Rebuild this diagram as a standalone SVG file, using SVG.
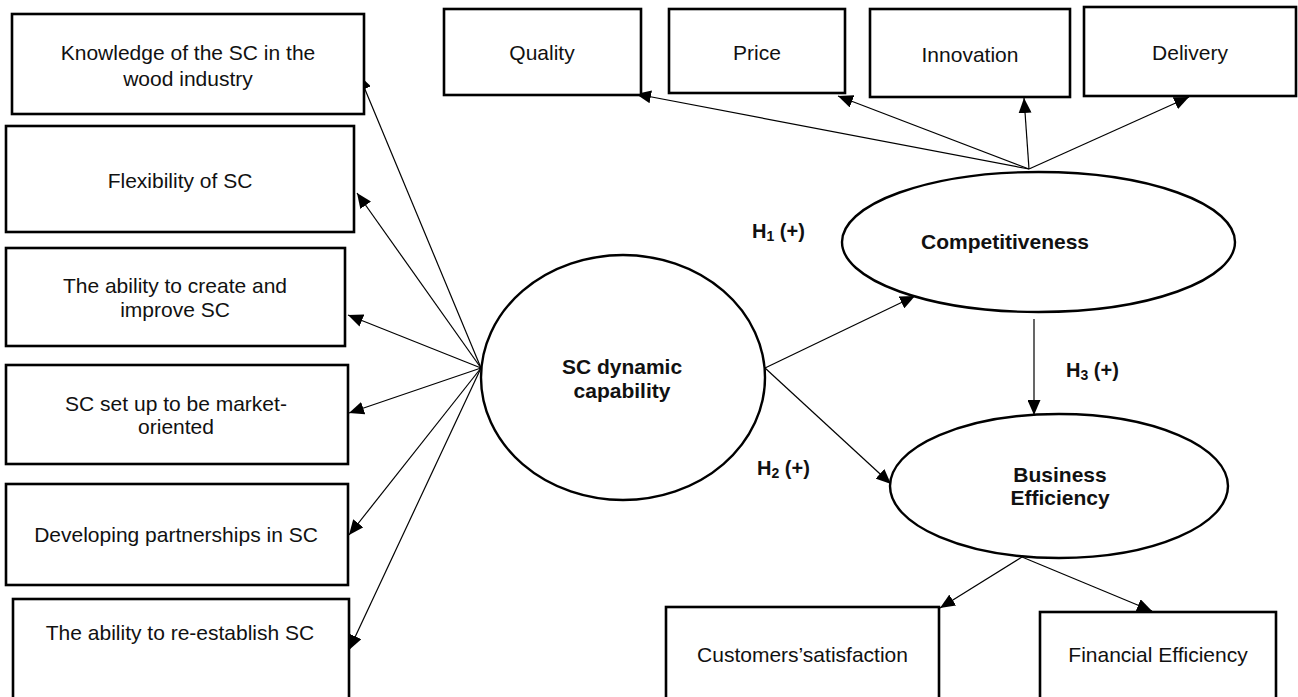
<svg xmlns="http://www.w3.org/2000/svg" width="1298" height="697" viewBox="0 0 1298 697">
<defs>
<marker id="ah" viewBox="0 0 15 13" refX="15" refY="6.5" markerWidth="15" markerHeight="13" orient="auto" markerUnits="userSpaceOnUse">
<path d="M0,0 L15,6.5 L0,13 z" fill="#000"/>
</marker>
<style>
.box{fill:#fff;stroke:#000;stroke-width:2.6}
.ell{fill:#fff;stroke:#000;stroke-width:2.4}
.t{font-family:"Liberation Sans",Arial,sans-serif;font-size:21px;fill:#111;text-anchor:middle}
.b{font-family:"Liberation Sans",Arial,sans-serif;font-size:21px;font-weight:bold;fill:#111;text-anchor:middle}
.h{font-family:"Liberation Sans",Arial,sans-serif;font-size:20px;font-weight:bold;fill:#111}
.c{stroke:#000;stroke-width:1.2;fill:none;marker-end:url(#ah)}
</style>
</defs>
<rect width="1298" height="697" fill="#fff"/>

<g id="connectors">
<line class="c" x1="481" y1="368" x2="359" y2="75"/>
<line class="c" x1="481" y1="368" x2="357" y2="193"/>
<line class="c" x1="481" y1="368" x2="348" y2="315"/>
<line class="c" x1="481" y1="368" x2="349" y2="413"/>
<line class="c" x1="481" y1="368" x2="349" y2="535"/>
<line class="c" x1="481" y1="368" x2="349" y2="650"/>
<line class="c" x1="1029" y1="169" x2="636" y2="94"/>
<line class="c" x1="1029" y1="169" x2="838" y2="96"/>
<line class="c" x1="1029" y1="169" x2="1024" y2="98"/>
<line class="c" x1="1029" y1="169" x2="1189" y2="97"/>
<line class="c" x1="765" y1="368" x2="915" y2="296"/>
<line class="c" x1="765" y1="368" x2="891" y2="484"/>
<line class="c" x1="1034" y1="319" x2="1034" y2="415"/>
<line class="c" x1="1022" y1="557" x2="940" y2="608"/>
<line class="c" x1="1022" y1="557" x2="1152" y2="611"/>
</g>

<g id="n-knowledge"><rect class="box" x="12" y="14" width="352" height="100"/>
<text class="t" x="188" y="60">Knowledge of the SC in the</text><text class="t" x="188" y="86">wood industry</text></g>
<g id="n-flexibility"><rect class="box" x="6" y="126" width="348" height="106"/>
<text class="t" x="180" y="188">Flexibility of SC</text></g>
<g id="n-create"><rect class="box" x="6" y="248" width="339" height="98"/>
<text class="t" x="175" y="293">The ability to create and</text><text class="t" x="175" y="317">improve SC</text></g>
<g id="n-market"><rect class="box" x="6" y="365" width="342" height="99"/>
<text class="t" x="176" y="411">SC set up to be market-</text><text class="t" x="176" y="434">oriented</text></g>
<g id="n-partnerships"><rect class="box" x="6" y="484" width="342" height="101"/>
<text class="t" x="176" y="542">Developing partnerships in SC</text></g>
<g id="n-reestablish"><rect class="box" x="13" y="599" width="336" height="110"/>
<text class="t" x="180" y="640">The ability to re-establish SC</text></g>

<g id="n-quality"><rect class="box" x="444" y="9" width="197" height="86"/>
<text class="t" x="542" y="60">Quality</text></g>
<g id="n-price"><rect class="box" x="669" y="9" width="176" height="84"/>
<text class="t" x="757" y="60">Price</text></g>
<g id="n-innovation"><rect class="box" x="870" y="9" width="200" height="88"/>
<text class="t" x="970" y="62">Innovation</text></g>
<g id="n-delivery"><rect class="box" x="1084" y="7" width="212" height="89"/>
<text class="t" x="1190" y="60">Delivery</text></g>

<g id="n-scdc"><ellipse class="ell" cx="623" cy="377.5" rx="142" ry="122.5"/>
<text class="b" x="622" y="374">SC dynamic</text><text class="b" x="622" y="398">capability</text></g>
<g id="n-competitiveness"><ellipse class="ell" cx="1038.5" cy="242" rx="196.5" ry="70"/>
<text class="b" x="1005" y="249">Competitiveness</text></g>
<g id="n-business"><ellipse class="ell" cx="1059" cy="486" rx="169" ry="72"/>
<text class="b" x="1060" y="482">Business</text><text class="b" x="1060" y="505">Efficiency</text></g>

<g id="n-customers"><rect class="box" x="666" y="607" width="273" height="110"/>
<text class="t" x="802.5" y="662">Customers’satisfaction</text></g>
<g id="n-financial"><rect class="box" x="1040" y="612" width="236" height="105"/>
<text class="t" x="1158" y="662">Financial Efficiency</text></g>

<g id="labels">
<text class="h" x="752" y="238">H<tspan font-size="14" dy="3">1</tspan><tspan dy="-3"> (+)</tspan></text>
<text class="h" x="757" y="475">H<tspan font-size="14" dy="3">2</tspan><tspan dy="-3"> (+)</tspan></text>
<text class="h" x="1066" y="377">H<tspan font-size="14" dy="3">3</tspan><tspan dy="-3"> (+)</tspan></text>
</g>
</svg>
